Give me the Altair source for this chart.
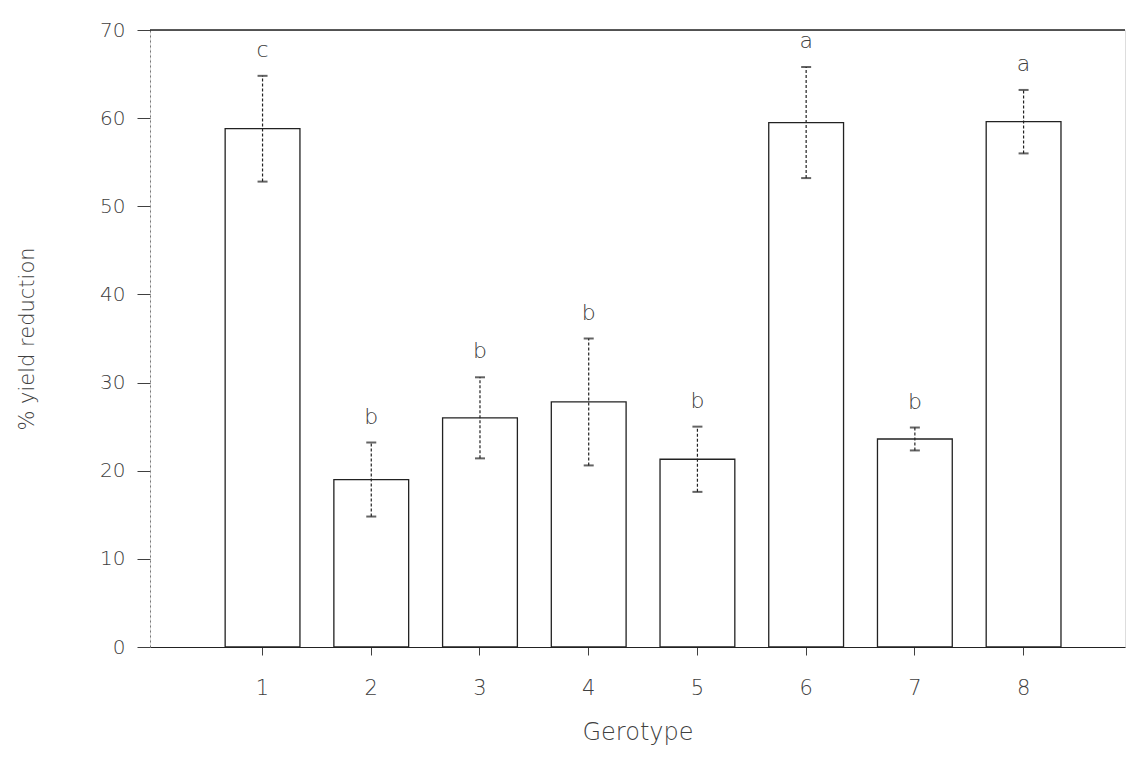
import altair as alt
import pandas as pd

genotypes = ["1", "2", "3", "4", "5", "6", "7", "8"]
means = [58.8, 19.0, 26.0, 27.8, 21.3, 59.5, 23.6, 59.6]
errors = [6.0, 4.2, 4.6, 7.2, 3.7, 6.3, 1.3, 3.6]
letters = ["c", "b", "b", "b", "b", "a", "b", "a"]

df = pd.DataFrame({
    "g": genotypes,
    "mean": means,
    "err": errors,
    "letter": letters,
})
df["lo"] = df["mean"] - df["err"]
df["hi"] = df["mean"] + df["err"]

FONT = "DejaVu Sans"
INK = "#404040"

x = alt.X("g:N", sort=genotypes,
          scale=alt.Scale(paddingInner=0.312, paddingOuter=0.64, align=0.54),
          axis=alt.Axis(title="Gerotype", labelAngle=0, labelPadding=22,
                        titlePadding=22, tickSize=8, domainColor="#222",
                        tickColor=INK, labelColor=INK, titleColor=INK,
                        labelFontSize=21, titleFontSize=24,
                        labelFont=FONT, titleFont=FONT,
                        labelFontWeight="lighter", titleFontWeight="lighter"))
y = alt.Y("mean:Q", scale=alt.Scale(domain=[0, 70], nice=False),
          axis=alt.Axis(title="% yield reduction", values=[0, 10, 20, 30, 40, 50, 60, 70],
                        tickSize=13, labelPadding=12, titlePadding=62,
                        domainDash=[2, 3], domainColor="#777", tickColor=INK,
                        labelColor=INK, titleColor=INK, labelFontSize=20,
                        titleFontSize=21, labelFont=FONT, titleFont=FONT,
                        labelFontWeight="lighter", titleFontWeight="lighter",
                        grid=False))

bars = alt.Chart(df).mark_bar(fill="white", stroke="#222", strokeWidth=1.3).encode(x=x, y=y)

err = alt.Chart(df).mark_rule(color="#222", strokeWidth=1.2, strokeDash=[3, 2]).encode(
    x=alt.X("g:N", sort=genotypes), y="lo:Q", y2="hi:Q")
caps_hi = alt.Chart(df).mark_tick(color="#222", thickness=2, size=10).encode(
    x=alt.X("g:N", sort=genotypes), y="hi:Q")
caps_lo = alt.Chart(df).mark_tick(color="#222", thickness=2, size=10).encode(
    x=alt.X("g:N", sort=genotypes), y="lo:Q")
labels = alt.Chart(df).mark_text(dy=-26, fontSize=22, font=FONT, fontWeight="lighter",
                                 color=INK).encode(
    x=alt.X("g:N", sort=genotypes), y="hi:Q", text="letter:N")

top = alt.Chart(pd.DataFrame({"v": [70]})).mark_rule(color="#222", strokeWidth=1.5).encode(
    y="v:Q")

chart = alt.layer(bars, err, caps_hi, caps_lo, labels, top).properties(
    width=975, height=617,
    autosize=alt.AutoSizeParams(type="none"),
    padding={"left": 150, "top": 30, "right": 11, "bottom": 127},
).configure_view(stroke=None).configure(background="white")

chart.save("out.html", embed_options={"renderer": "svg", "actions": False})
